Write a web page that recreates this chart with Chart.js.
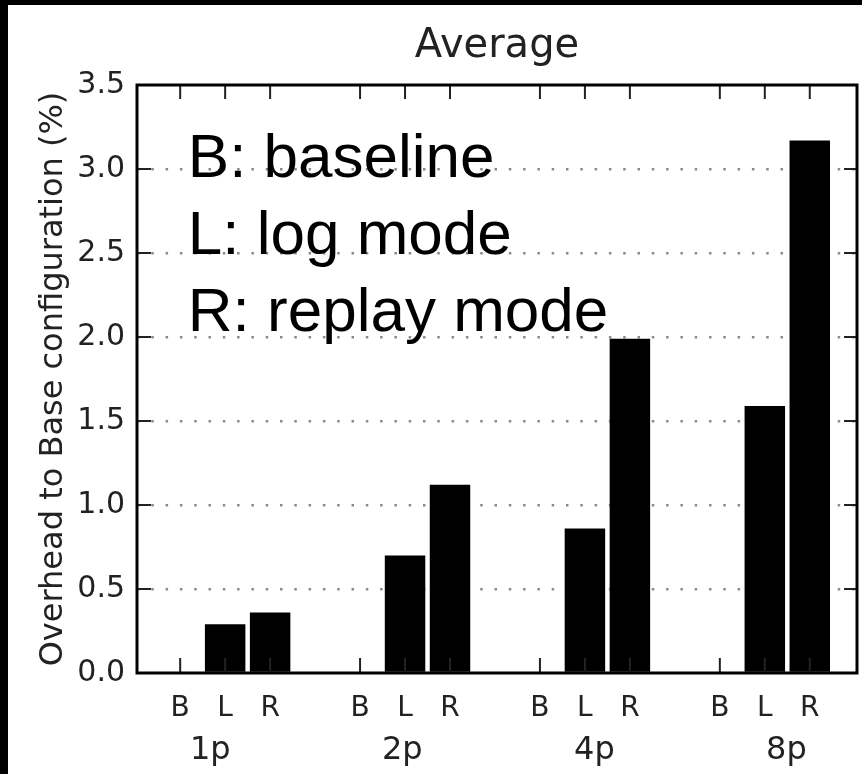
<!DOCTYPE html>
<html>
<head>
<meta charset="utf-8">
<script src="https://cdn.jsdelivr.net/npm/chart.js@4.4.1/dist/chart.umd.min.js"></script>
<style>
  html, body { margin: 0; padding: 0; background: #000; }
  #frame { position: absolute; left: 8px; top: 5px; width: 854px; height: 769px; background: #fff; }
  canvas { display: block; }
</style>
</head>
<body>
<div id="frame"><canvas id="chart" width="854" height="769"></canvas></div>
<script>
// ─── Data ───────────────────────────────────────────────────────────────────
const GROUPS = ["1p", "2p", "4p", "8p"];
const MODES = ["B", "L", "R"];
const BASELINE = [0, 0, 0, 0];
const LOG_MODE = [0.29, 0.70, 0.86, 1.59];
const REPLAY_MODE = [0.36, 1.12, 1.99, 3.17];
const Y_TICKS = [0, 0.5, 1.0, 1.5, 2.0, 2.5, 3.0, 3.5];
const LEGEND_LINES = ["B: baseline", "L: log mode", "R: replay mode"];

const TICK_FONT = "'DejaVu Sans', sans-serif";
const SLOTS_PER_GROUP = 4; // B, L, R, then an empty gap slot

const slotOf = (group, mode) => group * SLOTS_PER_GROUP + mode;
const modeSlots = GROUPS.flatMap((_, g) => MODES.map((_, m) => slotOf(g, m)));

function barsFor(values, mode) {
  return values.map((v, g) => ({ x: slotOf(g, mode), y: v }));
}

// The group names under the axis are spaced a bit wider than the groups.
const groupLabelAt = (g) => 0.67 + g * 4.27;

// Frame, inward ticks and the B/L/R key, drawn on top of the bars.
const framePlugin = {
  id: "frame",
  afterDatasetsDraw(chart) {
    const { ctx, chartArea: a, scales } = chart;
    const x = scales.x;
    const y = scales.y;
    ctx.save();
    ctx.strokeStyle = "#222";
    ctx.lineWidth = 2;
    ctx.beginPath();
    x.ticks.forEach((t) => {
      const px = x.getPixelForValue(t.value);
      ctx.moveTo(px, a.bottom);
      ctx.lineTo(px, a.bottom - 15);
      ctx.moveTo(px, a.top);
      ctx.lineTo(px, a.top + 14);
    });
    y.ticks.forEach((t) => {
      const py = y.getPixelForValue(t.value);
      ctx.moveTo(a.left, py);
      ctx.lineTo(a.left + 14, py);
      ctx.moveTo(a.right, py);
      ctx.lineTo(a.right - 13, py);
    });
    ctx.stroke();

    ctx.strokeStyle = "#000";
    ctx.lineWidth = 3;
    ctx.strokeRect(a.left, a.top, a.right - a.left, a.bottom - a.top);

    ctx.fillStyle = "#000";
    ctx.font = "62px 'Liberation Sans', Arial, sans-serif";
    ctx.textBaseline = "alphabetic";
    const tx = x.getPixelForValue(0.17);
    const ty = y.getPixelForValue(2.95);
    LEGEND_LINES.forEach((line, i) => ctx.fillText(line, tx, ty + i * 77));
    ctx.restore();
  },
};

const barStyle = { backgroundColor: "#000", borderWidth: 0, grouped: false, barPercentage: 0.9, categoryPercentage: 1 };

new Chart(document.getElementById("chart"), {
  type: "bar",
  data: {
    datasets: [
      { label: "B", data: barsFor(BASELINE, 0), ...barStyle },
      { label: "L", data: barsFor(LOG_MODE, 1), ...barStyle },
      { label: "R", data: barsFor(REPLAY_MODE, 2), ...barStyle },
    ],
  },
  options: {
    responsive: false,
    animation: false,
    layout: { padding: { left: 0, right: 5, top: 0, bottom: 0 } },
    scales: {
      x: {
        type: "linear",
        position: "bottom",
        weight: 0,
        min: -0.96,
        max: 15.05,
        offset: false,
        grid: { display: false, offset: false },
        border: { display: false },
        afterBuildTicks: (scale) => {
          scale.ticks = modeSlots.map((v) => ({ value: v }));
        },
        afterFit: (scale) => {
          scale.height = 47;
        },
        ticks: {
          autoSkip: false,
          maxRotation: 0,
          padding: 11,
          color: "#222",
          font: { family: TICK_FONT, size: 28 },
          callback: (value) => MODES[value % SLOTS_PER_GROUP],
        },
      },
      x2: {
        type: "linear",
        position: "bottom",
        weight: 1,
        min: -0.96,
        max: 15.05,
        offset: false,
        grid: { display: false, offset: false },
        border: { display: false },
        afterBuildTicks: (scale) => {
          scale.ticks = GROUPS.map((_, g) => ({ value: groupLabelAt(g) }));
        },
        afterFit: (scale) => {
          scale.height = 54;
        },
        ticks: {
          autoSkip: false,
          maxRotation: 0,
          padding: 3,
          color: "#222",
          font: { family: TICK_FONT, size: 32 },
          callback: (value, index) => GROUPS[index],
        },
      },
      y: {
        min: 0,
        max: 3.5,
        afterBuildTicks: (scale) => {
          scale.ticks = Y_TICKS.map((v) => ({ value: v }));
        },
        afterFit: (scale) => {
          scale.width = 129;
        },
        border: { display: false, dash: [2.5, 11.8] },
        grid: {
          drawTicks: false,
          lineWidth: 2.5,
          color: (c) => (c.tick && (c.tick.value === 0 || c.tick.value === 3.5) ? "rgba(0,0,0,0)" : "#8a8a8a"),
        },
        ticks: {
          padding: 12,
          color: "#222",
          font: { family: TICK_FONT, size: 30 },
          callback: (value) => Number(value).toFixed(1),
        },
        title: {
          display: true,
          text: "Overhead to Base configuration (%)",
          color: "#222",
          font: { family: TICK_FONT, size: 32 },
          padding: { top: 26, bottom: 0 },
        },
      },
    },
    plugins: {
      legend: { display: false },
      tooltip: { enabled: false },
      title: {
        display: true,
        fullSize: false,
        text: "Average",
        color: "#222",
        font: { family: TICK_FONT, size: 40, weight: "normal" },
        padding: { top: 18, bottom: 14 },
      },
    },
  },
  plugins: [framePlugin],
});
</script>
</body>
</html>
